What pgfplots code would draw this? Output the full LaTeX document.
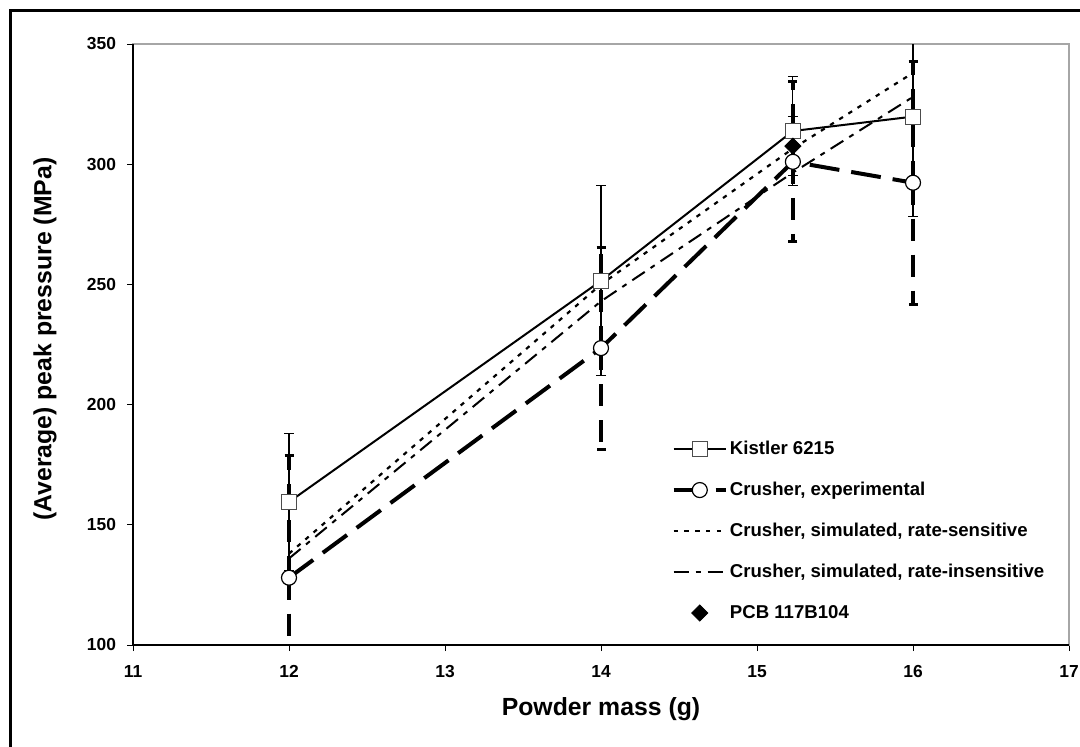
\documentclass[border=0pt]{standalone}
\usepackage{fontspec}
\setmainfont{Liberation Sans}
\usepackage{pgfplots}
\pgfplotsset{compat=1.18}
\begin{document}
\begin{tikzpicture}[x=0.5pt,y=0.5pt]
\useasboundingbox (0,0) rectangle (1080,746);
% outer frame (cut at right and bottom)
\draw[line width=1.5pt] (10.5,-5) -- (10.5,735.5) -- (1090,735.5);
\begin{axis}[
  name=ax,
  at={(66.5pt,50.5pt)}, anchor=south west,
  scale only axis, width=468pt, height=300.5pt,
  xmin=11, xmax=17, ymin=100, ymax=350,
  xtick={11,12,...,17}, ytick={100,150,...,350},
  xtick pos=bottom, ytick pos=left,
  tick align=outside, major tick length=3pt,
  tick style={black, line width=0.5pt},
  axis line style={draw=black!35, line width=0.75pt},
  /pgf/number format/assume math mode=true,
  tick label style={font=\bfseries\fontsize{8.7}{10}\selectfont},
  xticklabel style={yshift=-3.5pt},
  yticklabel style={xshift=-2pt},
  xlabel={Powder mass (g)},
  ylabel={(Average) peak pressure (MPa)},
  label style={font=\bfseries\fontsize{12.4}{14}\selectfont},
  xlabel style={at={(axis description cs:0.5,0)}, anchor=center, yshift=-32pt},
  ylabel style={at={(axis description cs:-0.094,0.509)}, anchor=center},
  legend style={at={(axis description cs:0.575,0.345)}, anchor=north west,
    draw=none, fill=none, inner sep=0pt, row sep=9.5pt,
    font=\bfseries\fontsize{9.3}{11}\selectfont,
    nodes={inner sep=1pt, text height=7pt, text depth=2pt}},
  legend cell align=left,
  legend image code/.code={\draw[mark repeat=2,mark phase=2,#1]
    plot coordinates {(0cm,0cm) (0.46cm,0cm) (0.92cm,0cm)};},
]
% Kistler 6215
\addplot[black, line width=1pt, mark=square*, mark size=3.75pt,
  mark options={solid, fill=white, draw=black!70, line width=0.6pt},
  error bars/.cd, y dir=both, y explicit,
  error bar style={black, line width=0.6pt, solid},
  error mark options={black, solid, rotate=90, mark size=2.5pt, line width=0.5pt}]
  coordinates {
  (12,159.5) +- (0,28.3)
  (14,251.5) +- (0,39.5)
  (15.23,313.8) +- (0,22.5)
  (16,319.8) +- (0,41.6)
};
\addlegendentry{Kistler 6215}
% Crusher, experimental
\addplot[black, line width=2pt, dash pattern=on 15pt off 6pt, mark=*, mark size=3.75pt,
  mark options={solid, fill=white, draw=black, line width=0.6pt},
  error bars/.cd, y dir=both, y explicit,
  error bar style={black, line width=2pt, dash pattern=on 11pt off 7pt},
  error mark options={black, solid, rotate=90, mark size=2.25pt, line width=1.5pt}]
  coordinates {
  (12,128) +- (0,51)
  (14,223.5) +- (0,42)
  (15.23,301) +- (0,33.3)
  (16,292.3) +- (0,50.5)
};
\addlegendentry{Crusher, experimental}
% Crusher, simulated, rate-sensitive
\addplot[black, line width=1.1pt, dash pattern=on 2.2pt off 3.2pt] coordinates {
  (12,138) (14,250) (15.23,306.5) (16,338)
};
\addlegendentry{Crusher, simulated, rate-sensitive}
% Crusher, simulated, rate-insensitive
\addplot[black, line width=1pt, dash pattern=on 7.5pt off 3.5pt on 2.5pt off 3.5pt] coordinates {
  (12,136) (14,243) (15.23,296.5) (16,328)
};
\addlegendentry{Crusher, simulated, rate-insensitive}
% PCB 117B104
\addplot[black, only marks, mark=square*, mark size=2.85pt,
  mark options={rotate=45, fill=black},
  error bars/.cd, y dir=both, y explicit,
  error bar style={black, line width=0.6pt, solid},
  error mark options={black, solid, rotate=90, mark size=2.5pt, line width=0.5pt}]
  coordinates {
  (15.23,307.5) +- (0,12.2)
};
\addlegendentry{PCB 117B104}
\end{axis}
\draw[black, line width=0.6pt] (ax.north west) -- (ax.south west) -- (ax.south east);
\end{tikzpicture}
\end{document}
